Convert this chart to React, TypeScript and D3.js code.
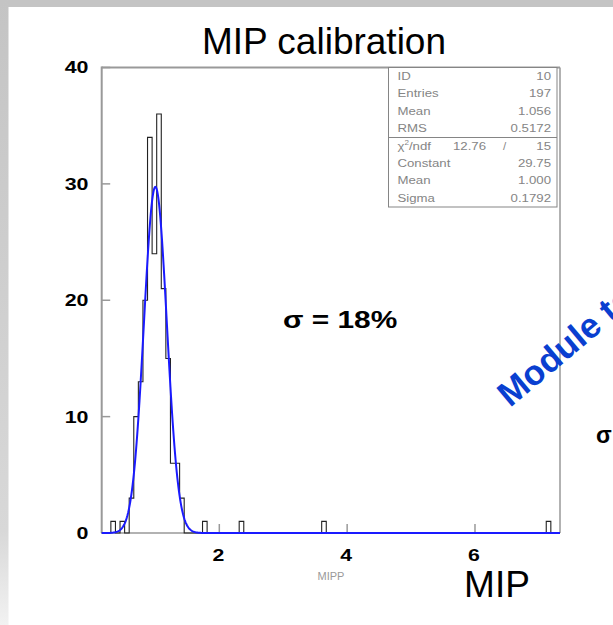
import React from "react";
import * as d3 from "d3";

// Histogram of MIP response: 100 equal bins between binLow and binHigh
const binLow = 0.16;
const binHigh = 7.33;
const binCounts = [
  0, 0, 1, 0, 1, 0, 3, 10, 13, 20,
  34, 24, 36, 21, 15, 6, 6, 3, 0, 0,
  0, 0, 1, 0, 0, 0, 0, 0, 0, 0,
  1, 0, 0, 0, 0, 0, 0, 0, 0, 0,
  0, 0, 0, 0, 0, 0, 0, 0, 1, 0,
  0, 0, 0, 0, 0, 0, 0, 0, 0, 0,
  0, 0, 0, 0, 0, 0, 0, 0, 0, 0,
  0, 0, 0, 0, 0, 0, 0, 0, 0, 0,
  0, 0, 0, 0, 0, 0, 0, 0, 0, 0,
  0, 0, 0, 0, 0, 0, 0, 1, 0, 0,
];

// Gaussian fit parameters
const fitConstant = 29.75;
const fitMean = 1.0;
const fitSigma = 0.1792;

const xTicks = [2, 4, 6];
const yTicks = [0, 10, 20, 30, 40];

const statLabels = ["ID", "Entries", "Mean", "RMS"];
const statValues = ["10", "197", "1.056", "0.5172"];
const fitLabels = ["Constant", "Mean", "Sigma"];
const fitValues = ["29.75", "1.000", "0.1792"];
const chiValue = "12.76";
const ndfValue = "15";

const W = 613;
const H = 625;
const frame = { left: 101.7, right: 560, top: 67.5, bottom: 533 };

// horizontally widened text anchored at (ax, ·)
const widen = (ax: number, k: number) => `translate(${ax},0) scale(${k},1) translate(${-ax},0)`;

export default function App() {
  const x = d3.scaleLinear().domain([binLow, binHigh]).range([frame.left, frame.right]);
  const y = d3.scaleLinear().domain([0, 40]).range([frame.bottom, frame.top]);
  const bw = (binHigh - binLow) / binCounts.length;

  // step outline of the histogram
  const pts: [number, number][] = [[binLow, 0]];
  binCounts.forEach((c, i) => {
    pts.push([binLow + i * bw, c]);
    pts.push([binLow + (i + 1) * bw, c]);
  });
  pts.push([binHigh, 0]);
  const histPath = d3.line<[number, number]>().x((d) => x(d[0])).y((d) => y(d[1]))(pts) ?? "";

  const gauss = (v: number) => fitConstant * Math.exp(-0.5 * ((v - fitMean) / fitSigma) ** 2);
  const fitPts = d3.range(0, 801).map((k) => binLow + ((binHigh - binLow) * k) / 800);
  const fitPath = d3
    .line<number>()
    .x((v) => x(v))
    .y((v) => y(gauss(v)))(fitPts) ?? "";

  const font = "'Liberation Sans', Arial, Helvetica, sans-serif";
  const frameColor = "#999";
  const statColor = "#858585";
  const boxL = 388.5;
  const boxR = 557;
  const rowH = 17.4;
  const row0 = 80;
  const divY = 137.5;
  const boxB = 207;

  return (
    <svg
      width={W}
      height={H}
      style={{ position: "absolute", left: 0, top: 0, background: "#fff" }}
      fontFamily={font}
    >
      <defs>
        <linearGradient id="edge" x1="0" y1="0" x2="0" y2="1">
          <stop offset="0" stopColor="#c4c4c4" />
          <stop offset="0.85" stopColor="#d8d8d8" />
          <stop offset="1" stopColor="#f2f2f2" />
        </linearGradient>
      </defs>
      <rect x={0} y={0} width={W} height={H} fill="#fff" />
      <rect x={0} y={0} width={W} height={7} fill="#c4c4c4" />
      <rect x={0} y={0} width={8.5} height={H} fill="url(#edge)" />

      <text x={324} y={54} fontSize={37} textAnchor="middle" fill="#000">
        MIP calibration
      </text>

      {/* frame */}
      <line x1={frame.left} x2={frame.right} y1={frame.top} y2={frame.top} stroke={frameColor} strokeWidth={2} />
      <line x1={frame.left} x2={frame.left} y1={frame.top - 1} y2={frame.bottom} stroke={frameColor} strokeWidth={2} />
      <line x1={frame.right} x2={frame.right} y1={frame.top} y2={frame.bottom} stroke={frameColor} strokeWidth={1.5} />
      <line x1={frame.left} x2={frame.right} y1={frame.bottom} y2={frame.bottom} stroke={frameColor} strokeWidth={1.5} />

      {yTicks.map((t) => (
        <g key={"y" + t}>
          <line x1={frame.left} x2={frame.left + 8.5} y1={y(t)} y2={y(t)} stroke={frameColor} strokeWidth={1.5} />
          <text x={88.5} y={y(t) + 6} fontSize={16.5} fontWeight="bold" textAnchor="end" transform={widen(88.5, 1.3)}>
            {t}
          </text>
        </g>
      ))}
      {xTicks.map((t) => (
        <g key={"x" + t}>
          <line x1={x(t)} x2={x(t)} y1={frame.bottom} y2={frame.bottom - 9} stroke={frameColor} strokeWidth={1.5} />
          <text x={x(t) - 1} y={561.5} fontSize={17} fontWeight="bold" textAnchor="middle" transform={widen(x(t) - 1, 1.25)}>
            {t}
          </text>
        </g>
      ))}
      <text x={331} y={580} fontSize={11} textAnchor="middle" fill="#9a9a9a">
        MIPP
      </text>

      <path d={histPath} fill="none" stroke="#222" strokeWidth={1.1} />
      <path d={fitPath} fill="none" stroke="#1a1aff" strokeWidth={2} />

      {/* statistics box */}
      <rect x={boxL} y={frame.top} width={boxR - boxL} height={boxB - frame.top} fill="#fff" stroke={statColor} strokeWidth={1} />
      <line x1={boxL} x2={boxR} y1={divY} y2={divY} stroke={statColor} strokeWidth={1} />
      <g fontSize={11.5} fill={statColor}>
        {statLabels.map((l, i) => (
          <g key={"s" + i}>
            <text x={boxL + 9} y={row0 + i * rowH} transform={widen(boxL + 9, 1.15)}>{l}</text>
            <text x={boxR - 6} y={row0 + i * rowH} textAnchor="end" transform={widen(boxR - 6, 1.15)}>{statValues[i]}</text>
          </g>
        ))}
        <text x={boxL + 9} y={row0 + 4 * rowH} transform={widen(boxL + 9, 1.15)}>
          χ<tspan fontSize={7} dy={-5}>2</tspan>
          <tspan dy={5}>/ndf</tspan>
        </text>
        <text x={486} y={row0 + 4 * rowH} textAnchor="end" transform={widen(486, 1.15)}>{chiValue}</text>
        <text x={503} y={row0 + 4 * rowH}>/</text>
        <text x={boxR - 6} y={row0 + 4 * rowH} textAnchor="end" transform={widen(boxR - 6, 1.15)}>{ndfValue}</text>
        {fitLabels.map((l, i) => (
          <g key={"f" + i}>
            <text x={boxL + 9} y={row0 + (5 + i) * rowH} transform={widen(boxL + 9, 1.15)}>{l}</text>
            <text x={boxR - 6} y={row0 + (5 + i) * rowH} textAnchor="end" transform={widen(boxR - 6, 1.15)}>{fitValues[i]}</text>
          </g>
        ))}
      </g>

      <text x={283} y={328} fontSize={23} fontWeight="bold" fill="#000" transform={widen(283, 1.3)}>
        σ = 18%
      </text>

      <text
        x={0}
        y={0}
        fontSize={35}
        fontWeight="bold"
        fill="#0a3fd0"
        transform="translate(510,408) rotate(-40)"
      >
        Module to module
      </text>
      <text x={596} y={443} fontSize={23} fontWeight="bold" fill="#000">
        σ
      </text>

      <text x={497} y={597} fontSize={37} fill="#000" textAnchor="middle">
        MIP
      </text>
    </svg>
  );
}
